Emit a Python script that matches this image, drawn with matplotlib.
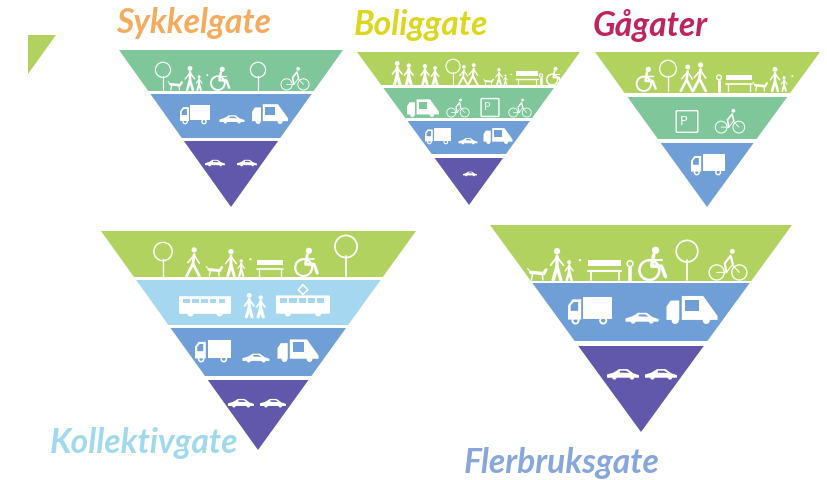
import matplotlib
matplotlib.use('Agg')
import matplotlib.pyplot as plt
from matplotlib.patches import Polygon, Circle, Rectangle, FancyBboxPatch

LIME = '#b2d25f'
GREEN = '#7fc79b'
BLUE = '#709fd8'
PURPLE = '#6157ab'
SKY = '#a5d8f0'

# left x, right x, top y, apex x, apex y
syk_shape = [119, 343, 51, 231, 208]
bol_shape = [357, 580, 53, 469, 206]
gaa_shape = [595, 820, 53, 707, 208]
kol_shape = [101, 416, 232, 258, 451]
fle_shape = [490, 792, 226, 641, 433]

# top and bottom of every band
syk_bands = [(51, 92), (95, 139), (142, 208)]
bol_bands = [(53, 86), (89, 119), (122, 155), (159, 206)]
gaa_bands = [(53, 94), (98, 140), (144, 208)]
kol_bands = [(232, 278), (281, 326), (329, 377), (381, 451)]
fle_bands = [(226, 282), (284, 342), (347, 433)]

syk_colors = [GREEN, BLUE, PURPLE]
bol_colors = [LIME, GREEN, BLUE, PURPLE]
gaa_colors = [LIME, GREEN, BLUE]
kol_colors = [LIME, SKY, BLUE, PURPLE]
fle_colors = [LIME, BLUE, PURPLE]

# icon, x, baseline y, size
syk_icons = [('tree', 163, 91, 28), ('family', 190, 91, 24), ('wheelchair', 219, 91, 23),
             ('tree', 258, 91, 28), ('bike', 295, 91, 20),
             ('truck', 195, 125, 30), ('car', 232, 124, 25), ('garbage', 270, 125, 36),
             ('car', 215, 167, 20), ('car', 247, 167, 20)]
bol_icons = [('people', 403, 86, 24), ('people', 430, 86, 21), ('tree', 453, 86, 26),
             ('walkers', 468, 86, 22), ('family', 499, 86, 17), ('bench', 527, 86, 22),
             ('pole', 541, 86, 14), ('wheelchair', 553, 86, 18),
             ('garbage', 423, 118, 32), ('bike', 458, 118, 16), ('parking', 490, 118, 19), ('bike', 520, 118, 16),
             ('truck', 438, 145, 26), ('car', 468, 145, 19), ('garbage', 498, 145, 29),
             ('car', 470, 177, 14)]
gaa_icons = [('wheelchair', 645, 92, 24), ('tree', 668, 92, 31), ('walkers', 693, 92, 29),
             ('pole', 719, 92, 20), ('bench', 739, 92, 26), ('family', 775, 92, 24),
             ('parking', 687, 134, 23), ('bike', 730, 134, 21),
             ('truck', 708, 176, 34)]
kol_icons = [('tree', 163, 277, 34), ('walker', 193, 277, 29), ('family', 231, 277, 27),
             ('bench', 270, 277, 26), ('wheelchair', 305, 277, 28), ('tree', 346, 277, 41),
             ('bus', 205, 318, 52), ('people', 255, 318, 24), ('tram', 303, 318, 54),
             ('truck', 213, 363, 36), ('car', 256, 363, 27), ('garbage', 298, 363, 41),
             ('car', 241, 408, 26), ('car', 273, 408, 26)]
fle_icons = [('family', 557, 281, 32), ('bench', 605, 281, 33), ('pole', 630, 281, 24),
             ('wheelchair', 651, 281, 33), ('tree', 687, 281, 40), ('bike', 728, 281, 27),
             ('truck', 590, 325, 44), ('car', 642, 324, 33), ('garbage', 692, 325, 51),
             ('car', 623, 380, 32), ('car', 661, 380, 32)]

names = ['Sykkelgate', 'Boliggate', 'Gågater', 'Kollektivgate', 'Flerbruksgate']
name_colors = ['#f5ab5e', '#dcd71e', '#c0245f', '#a0d9ee', '#86a6dc']
name_x = [116, 354, 593, 50, 464]
name_y = [23, 25, 26, 443, 463]
name_size = [24.2, 24.2, 24.2, 24.2, 24.2]

fig = plt.figure(figsize=(8.28, 4.81), dpi=100)
ax = fig.add_axes([0, 0, 1, 1])
ax.set_xlim(0, 828)
ax.set_ylim(481, 0)
ax.axis('off')

bg = LIME


def line(pts, x, y, s, lw=1.0, c='white'):
    ax.plot([x + p[0] * s for p in pts], [y - p[1] * s for p in pts], color=c, lw=lw * max(0.65, s / 26),
            solid_capstyle='round', solid_joinstyle='round', zorder=4)


def fill(pts, x, y, s, c='white', z=3):
    ax.add_patch(Polygon([(x + p[0] * s, y - p[1] * s) for p in pts], fc=c, ec='none', zorder=z))


def dot(u, v, r, x, y, s, c='white'):
    ax.add_patch(Circle((x + u * s, y - v * s), r * s, fc=c, ec='none', zorder=4))


def ring(u, v, r, x, y, s, lw=0.8):
    ax.add_patch(Circle((x + u * s, y - v * s), r * s, fc='none', ec='white', lw=lw * max(0.65, s / 26), zorder=4))


def person(u, x, y, s, h=1.0, lw=2.0):
    dot(u, 0.9 * h, 0.1 * h, x, y, s)
    line([(u, 0.74 * h), (u, 0.42 * h), (u - 0.12 * h, 0)], x, y, s, lw)
    line([(u, 0.42 * h), (u + 0.12 * h, 0)], x, y, s, lw)
    line([(u - 0.2 * h, 0.46 * h), (u, 0.72 * h), (u + 0.2 * h, 0.46 * h)], x, y, s, lw * 0.55)


def tree(x, y, s):
    line([(0, 0), (0, 0.5)], x, y, s, 0.8)
    ring(0, 0.72, 0.27, x, y, s, 0.8)


def walker(x, y, s):
    dot(0.04, 0.9, 0.09, x, y, s)
    line([(0.04, 0.74), (0, 0.42), (-0.22, 0)], x, y, s, 1.8)
    line([(0, 0.42), (0.22, 0)], x, y, s, 1.8)
    line([(-0.18, 0.46), (0.04, 0.72), (0.22, 0.44)], x, y, s, 1.0)


def walkers(x, y, s):
    walker(x - s * 0.22, y, s * 0.92)
    walker(x + s * 0.22, y, s)


def family(x, y, s):
    person(0, x, y, s)
    person(0.38, x, y, s, 0.62, 1.5)
    dot(0.72, 0.62, 0.04, x, y, s)
    # dog
    line([(-0.82, 0.24), (-0.42, 0.2)], x, y, s, 2.0)
    line([(-0.42, 0.2), (-0.34, 0.32)], x, y, s, 1.8)
    line([(-0.76, 0.22), (-0.8, 0)], x, y, s, 0.9)
    line([(-0.46, 0.2), (-0.44, 0)], x, y, s, 0.9)
    line([(-0.82, 0.24), (-0.92, 0.36)], x, y, s, 0.7)


def people(x, y, s):
    person(-0.24, x, y, s, 1.0, 2.4)
    person(0.24, x, y, s, 0.9, 2.4)


def wheelchair(x, y, s):
    ring(-0.05, 0.3, 0.3, x, y, s, 1.5)
    dot(0.14, 0.9, 0.11, x, y, s)
    line([(0.08, 0.76), (0.02, 0.42), (0.32, 0.42), (0.44, 0.1)], x, y, s, 2.0)
    line([(0.05, 0.62), (0.32, 0.62)], x, y, s, 1.1)


def bike(x, y, s):
    ring(-0.42, 0.28, 0.28, x, y, s, 0.9)
    ring(0.42, 0.28, 0.28, x, y, s, 0.9)
    line([(-0.42, 0.28), (-0.06, 0.28), (0.16, 0.56), (0.42, 0.28)], x, y, s, 0.8)
    line([(-0.06, 0.28), (-0.12, 0.62), (0.1, 0.9), (0.18, 0.58)], x, y, s, 1.5)
    dot(0.16, 1.06, 0.09, x, y, s)


def truck(x, y, s):
    fill([(-0.15, 0.12), (0.5, 0.12), (0.5, 0.62), (-0.15, 0.62)], x, y, s)
    fill([(-0.5, 0.1), (-0.5, 0.42), (-0.4, 0.56), (-0.2, 0.56), (-0.2, 0.1)], x, y, s)
    fill([(-0.44, 0.3), (-0.44, 0.42), (-0.37, 0.5), (-0.27, 0.5), (-0.27, 0.3)], x, y, s, bg, 4)
    ring(-0.33, 0.08, 0.07, x, y, s, 0.8)
    ring(0.3, 0.08, 0.07, x, y, s, 0.8)


def car(x, y, s):
    fill([(-0.5, 0.04), (-0.5, 0.14), (-0.3, 0.2), (-0.12, 0.31), (0.14, 0.31), (0.32, 0.18),
          (0.5, 0.12), (0.5, 0.04)], x, y, s)
    fill([(-0.1, 0.2), (-0.1, 0.26), (0.1, 0.26), (0.2, 0.19)], x, y, s, bg, 4)
    dot(-0.27, 0.05, 0.07, x, y, s)
    dot(0.28, 0.05, 0.07, x, y, s)


def garbage(x, y, s):
    fill([(-0.5, 0.08), (-0.5, 0.34), (-0.42, 0.46), (-0.25, 0.46), (-0.25, 0.08)], x, y, s)
    fill([(-0.2, 0.08), (-0.2, 0.55), (0.22, 0.55), (0.5, 0.16), (0.5, 0.08)], x, y, s)
    fill([(-0.13, 0.25), (-0.13, 0.48), (0.14, 0.48), (0.14, 0.25)], x, y, s, bg, 4)
    dot(-0.33, 0.07, 0.07, x, y, s)
    dot(0.28, 0.07, 0.07, x, y, s)


def bench(x, y, s):
    fill([(-0.5, 0.42), (0.5, 0.42), (0.5, 0.62), (-0.5, 0.62)], x, y, s)
    line([(-0.5, 0.28), (0.5, 0.28)], x, y, s, 1.2)
    line([(-0.42, 0.28), (-0.42, 0)], x, y, s, 1.0)
    line([(0.42, 0.28), (0.42, 0)], x, y, s, 1.0)


def pole(x, y, s):
    line([(0, 0), (0, 0.5)], x, y, s, 2.8)
    ring(0, 0.68, 0.12, x, y, s, 1.2)


def bus(x, y, s):
    ax.add_patch(FancyBboxPatch((x - s * 0.48, y - s * 0.38), s * 0.96, s * 0.3,
                                boxstyle='round,pad=%f' % (s * 0.02), fc='white', ec='none', zorder=3))
    for i in range(5):
        ax.add_patch(Rectangle((x + s * (-0.42 + i * 0.17), y - s * 0.35), s * 0.13, s * 0.09,
                               fc=SKY, ec='none', zorder=4))
    dot(-0.28, 0.07, 0.06, x, y, s)
    dot(0.28, 0.07, 0.06, x, y, s)


def tram(x, y, s):
    bus(x, y, s)
    line([(0, 0.42), (-0.09, 0.5), (0, 0.6), (0.09, 0.5), (0, 0.42)], x, y, s, 0.5)


def parking(x, y, s):
    ax.add_patch(FancyBboxPatch((x - s * 0.42, y - s * 0.92), s * 0.84, s * 0.84,
                                boxstyle='round,pad=%f' % (s * 0.05), fc='none', ec='white', lw=1.0, zorder=4))
    ax.text(x - s * 0.12, y - s * 0.55, 'P', color='white', fontsize=s * 0.42, ha='center', va='center',
            family='Open Sans', zorder=5)


draw_icon = {'tree': tree, 'walker': walker, 'walkers': walkers, 'family': family, 'people': people,
             'wheelchair': wheelchair, 'bike': bike, 'truck': truck, 'car': car, 'garbage': garbage,
             'bench': bench, 'pole': pole, 'bus': bus, 'tram': tram, 'parking': parking}


def pyramid(shape, bands, colors, icons):
    global bg
    left, right, top, ax_x, ax_y = shape
    for (y0, y1), col in zip(bands, colors):
        t0 = (y0 - top) / (ax_y - top)
        t1 = (y1 - top) / (ax_y - top)
        ax.add_patch(Polygon([(left + (ax_x - left) * t0, y0), (right + (ax_x - right) * t0, y0),
                              (right + (ax_x - right) * t1, y1), (left + (ax_x - left) * t1, y1)],
                             fc=col, ec='none', zorder=2))
    for kind, x, y, s in icons:
        for (y0, y1), col in zip(bands, colors):
            if y0 <= y <= y1:
                bg = col
        draw_icon[kind](x, y, s)


pyramid(syk_shape, syk_bands, syk_colors, syk_icons)
pyramid(bol_shape, bol_bands, bol_colors, bol_icons)
pyramid(gaa_shape, gaa_bands, gaa_colors, gaa_icons)
pyramid(kol_shape, kol_bands, kol_colors, kol_icons)
pyramid(fle_shape, fle_bands, fle_colors, fle_icons)

# cut off corner of a triangle at the left edge
ax.add_patch(Polygon([(28, 36), (56, 36), (28, 75)], fc=LIME, ec='none', zorder=2))

for i in range(len(names)):
    ax.text(name_x[i], name_y[i], names[i], color=name_colors[i], fontsize=name_size[i], family='Lato',
            weight='bold', style='italic', ha='left', va='center', zorder=6)

fig.savefig('out.png', dpi=100)
